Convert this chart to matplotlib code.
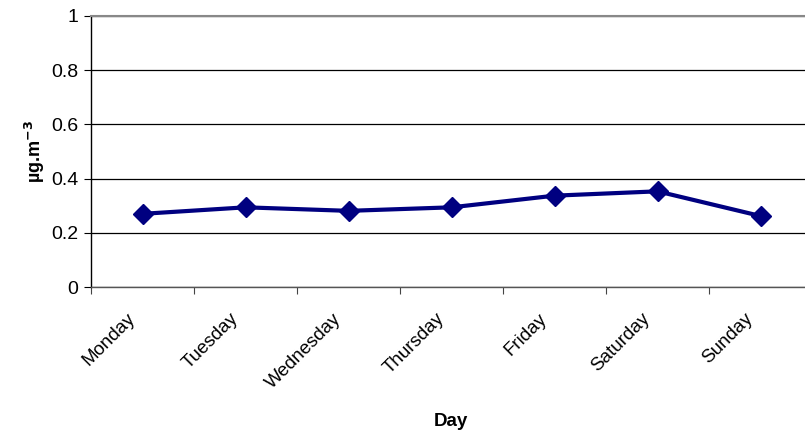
import matplotlib
matplotlib.use("Agg")
import matplotlib.pyplot as plt
from matplotlib.ticker import FixedLocator, NullFormatter
import matplotlib.transforms as mtransforms

days = ["Monday", "Tuesday", "Wednesday", "Thursday", "Friday", "Saturday", "Sunday"]
values = [0.270, 0.294, 0.281, 0.294, 0.337, 0.353, 0.262]
y_ticks = [0, 0.2, 0.4, 0.6, 0.8, 1]
y_tick_labels = ["0", "0.2", "0.4", "0.6", "0.8", "1"]

plt.rcParams['font.family'] = ['Liberation Sans', 'DejaVu Sans']

W, H = 805, 438
fig = plt.figure(figsize=(W / 100, H / 100), dpi=100)
left, right, top, bottom = 91, 812, 16, 287
ax = fig.add_axes([left / W, 1 - bottom / H, (right - left) / W, (bottom - top) / H])

x = list(range(len(days)))
ax.plot(x, values, color="#000080", lw=3.0, marker="D", ms=10.5,
        markerfacecolor="#000080", markeredgecolor="#000080", zorder=3, clip_on=False)

ax.set_xlim(-0.5, len(days) - 0.5)
ax.set_ylim(0, 1)
ax.set_yticks(y_ticks)
ax.set_yticklabels(y_tick_labels, fontsize=14)
ax.yaxis.grid(True, color="black", lw=0.9)
ax.set_axisbelow(True)

# category boundary ticks
ax.xaxis.set_major_locator(FixedLocator([i - 0.5 for i in range(len(days) + 1)]))
ax.xaxis.set_major_formatter(NullFormatter())
ax.xaxis.set_minor_locator(FixedLocator(x))
ax.set_xticklabels(days, minor=True, fontsize=13.5, rotation=45, ha="right",
                   rotation_mode="anchor")
ax.tick_params(axis="x", which="minor", length=0, pad=16.5)
ax.tick_params(axis="x", which="major", length=5, direction="out", color="#444444")
ax.tick_params(axis="y", length=5, direction="out", pad=4)

offset = mtransforms.ScaledTranslation(-16 / 100, 0, fig.dpi_scale_trans)
for lbl in ax.get_xticklabels(minor=True):
    lbl.set_transform(lbl.get_transform() + offset)

for s in ["left", "bottom"]:
    ax.spines[s].set_color("black")
    ax.spines[s].set_linewidth(1.0)
ax.spines["bottom"].set_color("#555555")
ax.spines["top"].set_color("#888888")
ax.spines["top"].set_linewidth(1.5)
ax.spines["right"].set_visible(False)

ax.set_ylabel("µg.m$^{\\mathbf{-3}}$", fontsize=13, fontweight="bold", labelpad=3)
fig.text(451 / W, 1 - 421 / H, "Day", fontsize=13.5, fontweight="bold", ha="center", va="center")

fig.savefig("out.png", dpi=100)
